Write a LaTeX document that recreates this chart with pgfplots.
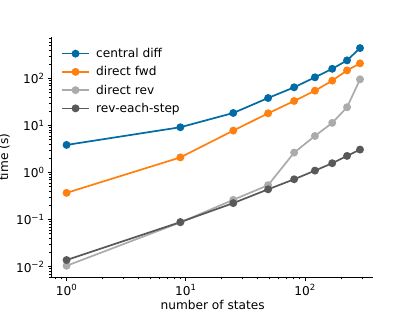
\documentclass[border=0pt]{standalone}
\usepackage{fontspec}
\setmainfont{DejaVu Sans}
\usepackage{pgfplots}
\pgfplotsset{compat=1.18}
\definecolor{cblue}{HTML}{006BA4}
\definecolor{corange}{HTML}{FF800E}
\definecolor{cgray}{HTML}{ABABAB}
\definecolor{cdark}{HTML}{595959}
\begin{document}
\begin{tikzpicture}
\useasboundingbox (0,0) rectangle (460.8pt,345.6pt);
\begin{axis}[
  at={(57.6pt,38.0pt)}, anchor=south west,
  scale only axis, width=357.12pt, height=266.1pt,
  xmode=log, ymode=log,
  xmin=0.753, xmax=375, ymin=0.006, ymax=750,
  axis lines=left, axis line style={-, line width=1.1pt},
  tick align=outside,
  major tick length=4.7pt, minor tick length=2.7pt,
  every tick/.style={black, line width=1.1pt},
  minor tick style={line width=0.8pt},
  xtick={1,10,100},
  xticklabels={10\textsuperscript{0},10\textsuperscript{1},10\textsuperscript{2}},
  minor xtick={0.8,0.9,2,3,4,5,6,7,8,9,20,30,40,50,60,70,80,90,200,300},
  ytick={0.01,0.1,1,10,100},
  yticklabels={10\textsuperscript{−2},10\textsuperscript{−1},10\textsuperscript{0},10\textsuperscript{1},10\textsuperscript{2}},
  minor ytick={0.006,0.007,0.008,0.009,0.02,0.03,0.04,0.05,0.06,0.07,0.08,0.09,0.2,0.3,0.4,0.5,0.6,0.7,0.8,0.9,2,3,4,5,6,7,8,9,20,30,40,50,60,70,80,90,200,300,400,500,600,700},
  tick label style={font=\fontsize{13.5pt}{16pt}\selectfont},
  label style={font=\fontsize{13.5pt}{16pt}\selectfont},
  xlabel={number of states},
  xlabel style={yshift=2pt},
  ylabel={time (s)},
  legend style={at={(axis description cs:0.02,0.97)}, anchor=north west, draw=none, fill=none,
    font=\fontsize{13.5pt}{16pt}\selectfont, row sep=4.5pt, column sep=5pt, cells={anchor=west}},
  legend image code/.code={\draw[mark repeat=2,mark phase=2] plot coordinates {(0pt,0pt) (15pt,0pt) (30pt,0pt)};},
  every axis plot/.append style={line width=1.9pt, mark=*, mark size=3.4pt},
]
\addplot[color=cblue, mark options={fill=cblue, draw=cblue}] coordinates {(1,3.87) (9,9.2) (25,18.5) (49,38.5) (81,65) (121,106) (169,161) (225,243) (289,444)};
\addlegendentry{central diff}
\addplot[color=corange, mark options={fill=corange, draw=corange}] coordinates {(1,0.37) (9,2.1) (25,7.8) (49,18.2) (81,33.3) (121,55) (169,90) (225,149) (289,210)};
\addlegendentry{direct fwd}
\addplot[color=cgray, mark options={fill=cgray, draw=cgray}] coordinates {(1,0.0104) (9,0.087) (25,0.263) (49,0.54) (81,2.66) (121,6.0) (169,11.4) (225,24.5) (289,96)};
\addlegendentry{direct rev}
\addplot[color=cdark, mark options={fill=cdark, draw=cdark}] coordinates {(1,0.0138) (9,0.0885) (25,0.224) (49,0.44) (81,0.72) (121,1.10) (169,1.58) (225,2.26) (289,3.08)};
\addlegendentry{rev-each-step}
\end{axis}
\end{tikzpicture}
\end{document}
